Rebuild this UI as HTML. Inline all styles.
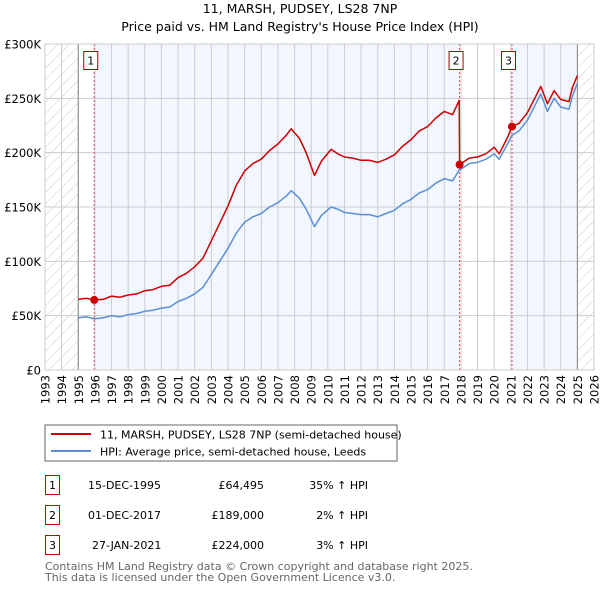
<!DOCTYPE html>
<html><head><meta charset="utf-8"><style>
body{margin:0;background:#fff;}
svg{display:block;font-family:"DejaVu Sans","Liberation Sans",sans-serif;}
</style></head><body>
<svg id="chart" width="600" height="590" xmlns="http://www.w3.org/2000/svg">
<defs>
<pattern id="hatch" width="8" height="8" patternUnits="userSpaceOnUse" patternTransform="rotate(45)">
<line x1="0" y1="0" x2="0" y2="8" stroke="#ccc" stroke-width="1"/>
</pattern>
</defs>
<text x="300" y="13" text-anchor="middle" font-size="12.5" fill="#000">11, MARSH, PUDSEY, LS28 7NP</text>
<text x="300" y="31" text-anchor="middle" font-size="12.5" fill="#000">Price paid vs. HM Land Registry's House Price Index (HPI)</text>
<g id="plot"></g>
<g id="legend">
<rect x="45" y="425" width="352" height="36" fill="#fff" stroke="#666" stroke-width="1"/>
<line x1="51" y1="434" x2="91" y2="434" stroke="#cc0000" stroke-width="2"/>
<text x="100" y="438.5" font-size="11">11, MARSH, PUDSEY, LS28 7NP (semi-detached house)</text>
<line x1="51" y1="451" x2="91" y2="451" stroke="#5b8fd4" stroke-width="2"/>
<text x="100" y="455.5" font-size="11">HPI: Average price, semi-detached house, Leeds</text>
</g>
<g id="table" font-size="11">
<rect x="45.5" y="475.5" width="14" height="19" fill="#fff" stroke="#cc0000"/><text x="52.5" y="489" text-anchor="middle">1</text>
<text x="88" y="489">15-DEC-1995</text><text x="264" y="489" text-anchor="end">£64,495</text><text x="368" y="489" text-anchor="end">35% ↑ HPI</text>
<rect x="45.5" y="505.5" width="14" height="19" fill="#fff" stroke="#cc0000"/><text x="52.5" y="519" text-anchor="middle">2</text>
<text x="88" y="519">01-DEC-2017</text><text x="264" y="519" text-anchor="end">£189,000</text><text x="368" y="519" text-anchor="end">2% ↑ HPI</text>
<rect x="45.5" y="535.5" width="14" height="19" fill="#fff" stroke="#cc0000"/><text x="52.5" y="549" text-anchor="middle">3</text>
<text x="92" y="549">27-JAN-2021</text><text x="264" y="549" text-anchor="end">£224,000</text><text x="368" y="549" text-anchor="end">3% ↑ HPI</text>
</g>
<text x="45" y="570" font-size="11" fill="#666">Contains HM Land Registry data © Crown copyright and database right 2025.</text>
<text x="45" y="581" font-size="11" fill="#666">This data is licensed under the Open Government Licence v3.0.</text>
</svg>
<script>
const dates=[1995.0,1995.5,1995.96,1996.5,1997,1997.5,1998,1998.5,1999,1999.5,2000,2000.5,2001,2001.5,2002,2002.5,2003,2003.5,2004,2004.5,2005,2005.5,2006,2006.5,2007,2007.5,2007.8,2008.3,2008.7,2009.2,2009.6,2010.2,2010.6,2011,2011.5,2012,2012.5,2013,2013.5,2014,2014.5,2015,2015.5,2016,2016.5,2017,2017.5,2017.9,2017.92,2018.5,2019,2019.5,2020,2020.3,2020.8,2021.07,2021.5,2022,2022.5,2022.8,2023.2,2023.6,2024,2024.5,2024.7,2025.0];
const hpiValues=[48,49,47,48,50,49,51,52,54,55,57,58,63,66,70,76,88,100,112,126,136,141,144,150,154,160,165,158,148,132,142,150,148,145,144,143,143,141,144,147,153,157,163,166,172,176,174,184,184,190,191,194,199,194,208,216,220,230,245,254,238,250,242,240,252,264];
const priceValues=[65,66,64.5,65,68,67,69,70,73,74,77,78,85,89,95,103,119,135,151,170,183,190,194,202,208,216,222,213,200,179,192,203,199,196,195,193,193,191,194,198,206,212,220,224,232,238,235,248,189,195,196,199,205,199,214,224,227,237,252,261,245,257,249,247,260,271];
const saleDates=[1995.96,2017.92,2021.07];
const salePrices=[64.495,189,224];
const saleLabels=["1","2","3"];
const yTicks=[0,50,100,150,200,250,300];
const yTickLabels=["£0","£50K","£100K","£150K","£200K","£250K","£300K"];
const xYears=[];for(let y=1993;y<=2026;y++)xYears.push(y);

const L=45,R=594,T=44,B=370,X0=1993,X1=2026,YMAX=300;
const sx=v=>L+(v-X0)/(X1-X0)*(R-L);
const sy=v=>B-v/YMAX*(B-T);
const NS="http://www.w3.org/2000/svg";
const plot=document.getElementById('plot');
function mk(tag,attrs,parent){const e=document.createElementNS(NS,tag);for(const k in attrs)e.setAttribute(k,attrs[k]);(parent||plot).appendChild(e);return e;}

let e;
e=mk('rect',{x:L,y:T,width:R-L,height:B-T,fill:'#fff'});


e=mk('rect',{x:sx(saleDates[0]),y:T,width:sx(saleDates[1])-sx(saleDates[0]),height:B-T,fill:'#f2f6fe'});


e=mk('rect',{x:sx(saleDates[2]),y:T,width:sx(2025.0)-sx(saleDates[2]),height:B-T,fill:'#f2f6fe'});


e=mk('rect',{x:L,y:T,width:sx(1995)-L,height:B-T,fill:'url(#hatch)'});


e=mk('rect',{x:sx(2025.0),y:T,width:R-sx(2025.0),height:B-T,fill:'url(#hatch)'});


xYears.forEach(y=>{e=mk('line',{x1:sx(y),x2:sx(y),y1:T,y2:B,stroke:'#ccc','stroke-width':1});


e=mk('text',{x:0,y:0,transform:`translate(${sx(y)+4.5},${B+5}) rotate(-90)`,'text-anchor':'end','font-size':'11.5',fill:'#000'});e.textContent=y;

});
yTicks.forEach((v,i)=>{e=mk('line',{x1:L,x2:R,y1:sy(v),y2:sy(v),stroke:'#ccc','stroke-width':1});


e=mk('text',{x:L-4,y:sy(v)+4.5,'text-anchor':'end','font-size':'11.5',fill:'#000'});e.textContent=yTickLabels[i];

});
e=mk('line',{x1:sx(1995),x2:sx(1995),y1:T,y2:B,stroke:'#888','stroke-width':1});


e=mk('line',{x1:sx(2025.0),x2:sx(2025.0),y1:T,y2:B,stroke:'#888','stroke-width':1});


saleDates.forEach((d,i)=>{e=mk('line',{x1:sx(d),x2:sx(d),y1:T,y2:B,stroke:'#e05050','stroke-width':1,'stroke-dasharray':'2,2'});

});
const pts=a=>a.map((v,i)=>sx(dates[i]).toFixed(1)+','+sy(v).toFixed(1)).join(' ');
e=mk('polyline',{points:pts(hpiValues),fill:'none',stroke:'#5b8fd4','stroke-width':1.5,'stroke-linejoin':'round'});


e=mk('polyline',{points:pts(priceValues),fill:'none',stroke:'#cc0000','stroke-width':1.5,'stroke-linejoin':'round'});


saleDates.forEach((d,i)=>{
e=mk('circle',{cx:sx(d),cy:sy(salePrices[i]),r:4,fill:'#cc0000'});


e=mk('rect',{x:sx(d)-10.5,y:51.5,width:14,height:18,fill:'#fff',stroke:'#aa0000'});


e=mk('text',{x:sx(d)-3.5,y:64.5,'text-anchor':'middle','font-size':'11',fill:'#000'});e.textContent=saleLabels[i];


});
e=mk('rect',{x:L,y:T,width:R-L,height:B-T,fill:'none',stroke:'#ccc'});


</script>
</body></html>
